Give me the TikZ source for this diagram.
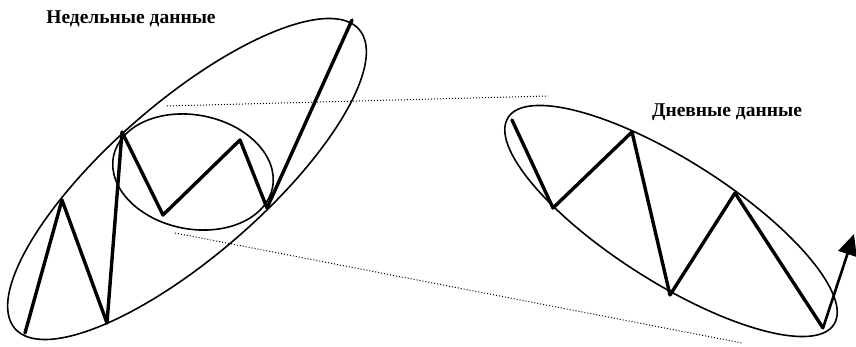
\documentclass[tikz,border=0pt]{standalone}
\usepackage{fontspec}
\setmainfont{Liberation Serif}
\usetikzlibrary{arrows.meta}
\begin{document}
\begin{tikzpicture}[x=1pt,y=-1pt,
  oval/.style={line width=1.6pt},
  zig/.style={line width=3.4pt,line join=round,line cap=round},
  guide/.style={line width=1pt,dotted},
  lab/.style={font=\fontsize{19.5}{22}\selectfont\bfseries,inner sep=0pt}]
\useasboundingbox (0,0) rectangle (856,347);
\fill[white] (0,0) rectangle (856,347);
% weekly
\coordinate (cw) at (187,179);
\draw[oval,rotate around={41:(cw)}] (cw) ellipse (228pt and 77pt);
\coordinate (ci) at (193,172);
\draw[oval,rotate around={-11:(ci)}] (ci) ellipse (81pt and 57pt);
\coordinate (p1) at (25,333);
\coordinate (p2) at (62,200);
\coordinate (p3) at (107,323);
\coordinate (p4) at (122,132);
\coordinate (p5) at (163,215);
\coordinate (p6) at (240,140);
\coordinate (p7) at (267,208);
\coordinate (p8) at (352,20);
\draw[zig] (p1) -- (p2) -- (p3) -- (p4) -- (p5) -- (p6) -- (p7) -- (p8);
\node[lab] (wl) at (131,19) {Недельные данные};
% daily
\coordinate (cd) at (671,221);
\draw[oval,rotate around={-32.4:(cd)}] (cd) ellipse (193pt and 61pt);
\coordinate (q1) at (512,120);
\coordinate (q2) at (553,208);
\coordinate (q3) at (632,132);
\coordinate (q4) at (670,295);
\coordinate (q5) at (735,193);
\coordinate (q6) at (823,328);
\coordinate (tip) at (854,234);
\draw[zig] (q1) -- (q2) -- (q3) -- (q4) -- (q5) -- (q6);
\draw[line width=2.6pt,-{Triangle[length=21pt,width=19pt]}] (q6) -- (tip);
\node[lab] (dl) at (727,112) {Дневные данные};
% guides
\coordinate (g1) at (167,106);
\coordinate (g2) at (548,96);
\coordinate (g3) at (175,233);
\coordinate (g4) at (742,343);
\draw[guide] (g1) -- (g2);
\draw[guide] (g3) -- (g4);
\end{tikzpicture}
\end{document}
